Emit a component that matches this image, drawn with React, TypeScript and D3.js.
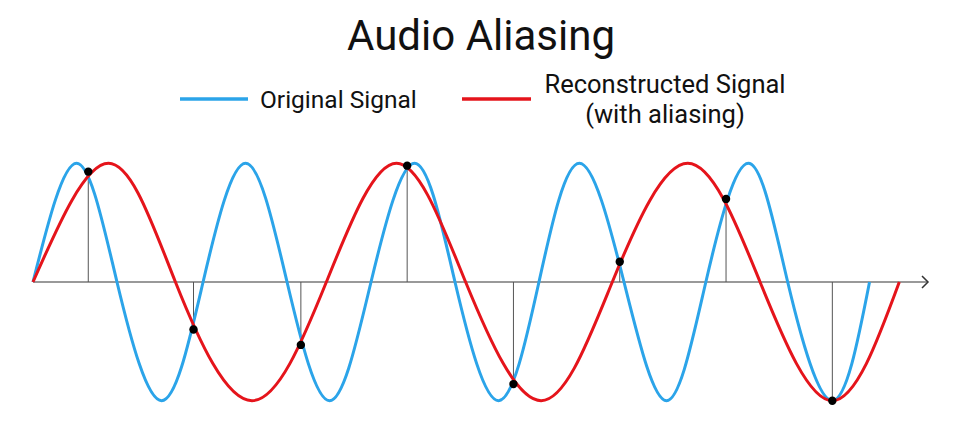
import React from "react";
import * as d3 from "d3";

// time in sample periods, value as fraction of the peak amplitude
const blueT = [0, 0.41, 0.79, 1.21, 1.6, 2.0, 2.39, 2.79, 3.18, 3.59, 3.97, 4.38, 4.76, 5.14, 5.56, 5.96, 6.33, 6.73, 7.1, 7.52, 7.87];
const blueV = [0, 1, 0, -1, 0, 1, 0, -1, 0, 1, 0, -1, 0, 1, 0, -1, 0, 1, 0, -1, 0];

const redT = [0, 0.71, 1.34, 2.06, 2.76, 3.42, 4.07, 4.78, 5.45, 6.16, 6.84, 7.52, 8.15];
const redV = [0, 1, 0, -1, 0, 1, 0, -1, 0, 1, 0, -1, 0];

const sampleT = [0.52, 1.51, 2.52, 3.52, 4.52, 5.52, 6.52, 7.52];
const sampleV = [0.93, -0.4, -0.53, 0.98, -0.86, 0.17, 0.7, -1.0];

const legendLabels = ["Original Signal", "Reconstructed Signal", "(with aliasing)"];

const BLUE = "#2ba4e9";
const RED = "#e5141b";
const FONT = "Roboto, 'Open Sans', sans-serif";

type Pt = [number, number];

export default function App() {
  const width = 960;
  const height = 448;

  const x = d3.scaleLinear().domain([0, 8.42]).range([33, 928]);
  const y = d3.scaleLinear().domain([-1, 1]).range([400.7, 163.3]);

  const line = d3
    .line<Pt>()
    .x(d => x(d[0]))
    .y(d => y(d[1]))
    .curve(d3.curveNatural);

  const bluePath = line(blueT.map((t, i) => [t, blueV[i]] as Pt)) || "";
  const redPath = line(redT.map((t, i) => [t, redV[i]] as Pt)) || "";

  const axisEnd = x(8.42);
  const y0 = y(0);

  return (
    <svg
      width={width}
      height={height}
      style={{ position: "absolute", left: 0, top: 0, background: "#fff" }}
      fontFamily={FONT}
    >
      <text x={481} y={50} textAnchor="middle" fontSize={42} fill="#111">
        Audio Aliasing
      </text>

      {/* legend */}
      <line x1={180} x2={248} y1={99} y2={99} stroke={BLUE} strokeWidth={3.5} />
      <text x={260} y={99} dominantBaseline="central" fontSize={24.5} fill="#111">
        {legendLabels[0]}
      </text>
      <line x1={462} x2={531} y1={99} y2={99} stroke={RED} strokeWidth={3.5} />
      <text x={665} y={84} dominantBaseline="central" textAnchor="middle" fontSize={25.5} fill="#111">
        {legendLabels[1]}
      </text>
      <text x={665} y={114} dominantBaseline="central" textAnchor="middle" fontSize={25.5} fill="#111">
        {legendLabels[2]}
      </text>

      {/* time axis */}
      <line x1={x(0)} x2={axisEnd} y1={y0} y2={y0} stroke="#777" strokeWidth={1.5} />
      <polyline
        points={`${axisEnd - 6},${y0 - 6} ${axisEnd},${y0} ${axisEnd - 6},${y0 + 6}`}
        fill="none"
        stroke="#333"
        strokeWidth={1.5}
      />

      {/* sample stems */}
      {sampleT.map((t, i) => (
        <line key={i} x1={x(t)} x2={x(t)} y1={y0} y2={y(sampleV[i])} stroke="#555" strokeWidth={1} />
      ))}

      <path d={bluePath} fill="none" stroke={BLUE} strokeWidth={3} />
      <path d={redPath} fill="none" stroke={RED} strokeWidth={3} />

      {sampleT.map((t, i) => (
        <circle key={i} cx={x(t)} cy={y(sampleV[i])} r={4.2} fill="#000" />
      ))}
    </svg>
  );
}
